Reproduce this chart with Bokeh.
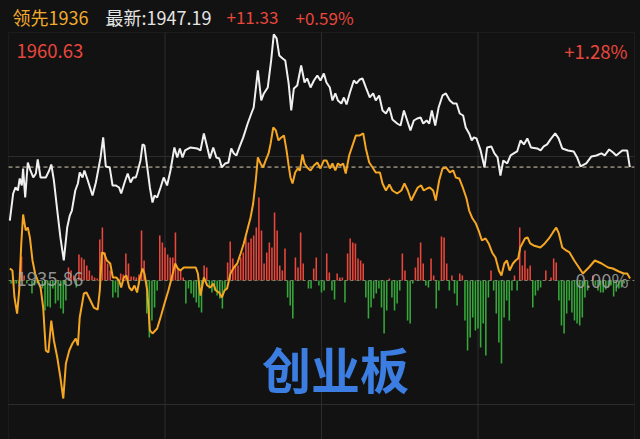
from bokeh.plotting import figure
from bokeh.models import Range1d, Label, BoxAnnotation, ColumnDataSource
from bokeh.embed import file_html
from bokeh.resources import INLINE

# ---------------- data ----------------
PREV_CLOSE = 1935.86
LAST_PRICE = 1947.19
HIGH_LABEL = 1960.63
LEAD_VALUE = 1936
BOARD_NAME = "创业板"
SESSION_MINUTES = 240
GRID_MINUTES = [60, 120, 180]

WHITE_T = [0.5, 1.8, 2.7, 3.6, 4.3, 5.1, 5.6, 6.4, 7.4, 8.4,
           9.5, 10.5, 11.2, 12.3, 14.3, 15.6, 16.4, 17.4, 18.7, 19.9,
           21.2, 22.5, 23.5, 24.3, 25.6, 26.6, 27.3, 28.4, 29.1, 30.4,
           32.2, 33.5, 35.3, 36.3, 37.3, 38.8, 39.9, 41.1, 42.4, 43.2,
           44.5, 45.7, 46.8, 47.8, 48.8, 49.3, 50.6, 51.4, 52.1, 53.2,
           54.2, 55.2, 56.0, 57.0, 58.3, 59.5, 60.8, 62.1, 63.6, 64.7,
           65.7, 66.7, 67.7, 69.8, 72.3, 73.6, 74.9, 76.2, 77.2, 78.5,
           79.7, 80.8, 81.8, 83.1, 84.3, 85.4, 86.4, 87.4, 88.5, 90.0,
           91.7, 93.1, 94.0, 95.6, 96.9, 97.9, 99.4, 100.7, 101.7, 102.8,
           103.8, 105.1, 106.1, 107.4, 108.4, 109.4, 110.7, 112.2, 113.5, 114.5,
           115.8, 117.1, 118.4, 119.6, 120.9, 121.9, 123.2, 124.2, 125.3, 126.3,
           127.6, 128.6, 129.6, 130.9, 132.4, 133.4, 134.7, 135.7, 137.0, 138.5,
           139.8, 140.8, 142.1, 143.4, 144.7, 146.0, 147.2, 149.0, 150.3, 151.6,
           152.6, 154.1, 155.4, 156.7, 158.0, 159.0, 160.3, 161.3, 162.3, 163.6,
           164.9, 166.4, 167.7, 169.2, 170.5, 171.8, 173.0, 174.3, 175.3, 176.6,
           177.6, 178.4, 179.4, 181.0, 182.5, 183.5, 185.1, 186.3, 187.5, 188.6,
           189.7, 191.2, 192.5, 193.7, 195.0, 196.3, 197.6, 198.9, 200.3, 202.7,
           204.0, 205.2, 206.5, 207.8, 209.6, 210.9, 212.3, 214.5, 216.7, 218.0,
           219.3, 221.5, 223.5, 225.4, 227.3, 228.6, 230.3, 231.8, 233.0, 235.3,
           237.2, 238.2]
WHITE_P = [1941.85, 1944.55, 1945.15, 1944.85, 1946.05, 1945.35, 1947.05, 1944.15, 1947.65, 1946.85,
           1946.15, 1946.55, 1947.95, 1946.15, 1946.15, 1946.85, 1947.45, 1945.85, 1942.85, 1940.16,
           1937.86, 1941.15, 1942.35, 1942.85, 1944.85, 1945.55, 1946.65, 1946.15, 1946.85, 1945.85,
           1944.35, 1945.65, 1948.15, 1950.15, 1947.25, 1947.15, 1945.35, 1945.35, 1945.15, 1944.55,
           1945.65, 1946.55, 1945.65, 1946.15, 1946.15, 1946.55, 1947.85, 1949.45, 1949.35, 1947.15,
           1945.15, 1943.65, 1944.35, 1944.15, 1945.15, 1946.15, 1945.35, 1946.85, 1949.15, 1948.15,
           1949.05, 1948.15, 1948.85, 1949.15, 1949.05, 1948.85, 1950.55, 1949.15, 1948.05, 1949.15,
           1948.15, 1948.05, 1947.15, 1947.55, 1947.65, 1949.05, 1948.55, 1948.35, 1949.15, 1950.15,
           1951.54, 1952.54, 1953.14, 1956.84, 1953.84, 1954.54, 1955.14, 1957.84, 1960.44, 1960.04,
           1958.34, 1958.04, 1957.84, 1955.54, 1952.84, 1955.04, 1955.34, 1957.34, 1955.64, 1956.04,
           1955.14, 1955.84, 1956.34, 1955.84, 1956.54, 1955.64, 1955.14, 1953.84, 1954.54, 1953.84,
           1953.54, 1954.14, 1953.44, 1954.64, 1955.84, 1955.54, 1955.94, 1956.04, 1955.14, 1954.14,
           1954.54, 1953.84, 1954.34, 1952.84, 1952.54, 1953.14, 1951.94, 1951.54, 1951.34, 1952.84,
           1952.04, 1950.85, 1951.84, 1952.04, 1952.14, 1951.54, 1951.84, 1951.54, 1952.84, 1951.34,
           1953.14, 1954.34, 1954.54, 1953.84, 1953.54, 1953.54, 1952.54, 1952.34, 1951.14, 1950.55,
           1949.85, 1950.15, 1950.05, 1948.85, 1947.15, 1949.15, 1949.25, 1948.55, 1948.15, 1946.35,
           1947.85, 1947.55, 1948.35, 1948.55, 1948.75, 1949.85, 1949.45, 1950.05, 1949.15, 1949.05,
           1948.85, 1949.25, 1949.45, 1949.95, 1950.55, 1950.05, 1949.05, 1948.85, 1948.75, 1948.15,
           1947.25, 1947.55, 1948.25, 1948.35, 1948.55, 1948.35, 1948.95, 1948.65, 1948.35, 1948.85,
           1948.85, 1947.19]

LEAD_T = [0.5, 1.5, 2.3, 3.3, 4.1, 4.9, 5.6, 6.6, 7.4, 8.2,
          9.2, 10.2, 11.2, 12.3, 13.3, 14.3, 15.3, 16.4, 17.4, 18.7,
          19.9, 21.0, 22.0, 23.3, 24.5, 25.8, 26.6, 27.3, 28.9, 29.9,
          31.4, 32.7, 34.2, 35.0, 35.8, 36.7, 37.7, 39.0, 40.0, 41.3,
          42.4, 43.2, 44.2, 45.2, 46.3, 47.3, 48.3, 49.3, 50.3, 51.4,
          52.1, 53.2, 54.2, 55.2, 57.0, 58.5, 59.8, 61.3, 62.6, 63.9,
          64.9, 65.9, 67.2, 71.8, 72.6, 73.6, 74.9, 76.2, 77.4, 78.5,
          79.5, 80.8, 81.8, 82.8, 83.8, 85.1, 86.4, 87.7, 89.0, 90.2,
          91.5, 92.8, 93.8, 94.8, 95.6, 96.6, 97.6, 98.6, 99.7, 100.5,
          101.5, 102.5, 103.5, 104.6, 105.6, 106.6, 107.4, 108.1, 108.9, 109.9,
          110.9, 111.7, 112.7, 113.5, 114.5, 115.8, 117.1, 118.4, 119.6, 120.9,
          121.9, 123.2, 124.2, 125.3, 126.3, 127.3, 128.3, 129.3, 130.6, 131.9,
          133.2, 134.7, 136.0, 137.0, 138.3, 139.6, 140.8, 142.4, 143.4, 144.7,
          146.0, 147.2, 149.0, 150.6, 151.8, 153.1, 154.4, 155.7, 156.9, 158.2,
          159.2, 160.5, 161.5, 162.8, 163.8, 165.1, 166.4, 167.7, 169.2, 170.5,
          171.5, 172.8, 174.3, 175.6, 176.6, 177.9, 179.2, 180.5, 181.5, 182.9,
          184.1, 185.4, 186.7, 188.0, 189.0, 190.1, 191.1, 192.1, 193.4, 194.4,
          195.4, 196.2, 197.0, 198.0, 199.0, 200.0, 201.3, 203.9, 205.6, 207.2,
          208.7, 210.0, 211.0, 212.3, 213.8, 215.1, 216.9, 218.7, 220.2, 222.5,
          224.8, 227.4, 229.9, 231.7, 234.0, 235.9, 237.2, 238.3]
LEAD_P = [1937.06, 1936.86, 1934.16, 1932.56, 1934.86, 1939.56, 1942.45, 1940.86, 1941.15, 1940.16,
          1937.86, 1936.56, 1935.86, 1935.16, 1933.16, 1928.87, 1928.67, 1931.86, 1929.87, 1928.17,
          1926.17, 1924.07, 1927.57, 1928.87, 1929.57, 1930.07, 1929.37, 1932.16, 1934.56, 1934.66,
          1933.86, 1933.16, 1932.96, 1934.86, 1938.66, 1938.56, 1937.86, 1937.56, 1936.16, 1936.16,
          1935.86, 1935.16, 1936.16, 1936.36, 1935.16, 1934.86, 1935.36, 1934.66, 1936.06, 1937.06,
          1936.56, 1934.86, 1930.87, 1930.57, 1931.06, 1932.36, 1933.56, 1934.86, 1936.16, 1937.56,
          1937.06, 1936.86, 1937.16, 1937.16, 1936.56, 1934.36, 1936.16, 1935.36, 1935.16, 1935.56,
          1934.86, 1934.66, 1934.16, 1934.86, 1935.06, 1936.56, 1937.16, 1937.56, 1938.56, 1939.56,
          1940.86, 1942.15, 1943.55, 1945.85, 1948.15, 1947.55, 1947.15, 1947.85, 1948.55, 1949.55,
          1951.14, 1950.85, 1949.85, 1950.15, 1950.35, 1948.85, 1947.35, 1946.15, 1945.55, 1946.65,
          1947.05, 1946.85, 1948.45, 1947.55, 1947.15, 1946.85, 1947.35, 1947.65, 1947.05, 1947.85,
          1947.85, 1947.05, 1947.55, 1946.85, 1947.55, 1947.35, 1947.55, 1946.55, 1948.35, 1949.35,
          1950.35, 1950.35, 1950.55, 1949.05, 1947.65, 1947.15, 1946.65, 1946.65, 1945.55, 1944.85,
          1945.45, 1944.85, 1944.55, 1944.85, 1945.55, 1944.85, 1943.85, 1944.55, 1945.15, 1945.35,
          1944.85, 1945.05, 1945.15, 1944.85, 1943.85, 1945.85, 1947.05, 1947.15, 1946.65, 1946.85,
          1946.15, 1946.05, 1945.05, 1944.05, 1942.85, 1942.05, 1941.55, 1940.66, 1939.86, 1940.06,
          1939.56, 1938.66, 1938.16, 1936.86, 1936.36, 1937.56, 1937.86, 1936.86, 1937.56, 1937.86,
          1938.06, 1939.16, 1939.56, 1940.06, 1940.16, 1939.56, 1939.36, 1939.16, 1939.56, 1940.06,
          1940.66, 1941.15, 1940.56, 1939.16, 1938.86, 1938.66, 1937.86, 1937.16, 1936.56, 1937.16,
          1937.86, 1937.56, 1937.16, 1937.06, 1936.76, 1936.56, 1936.56, 1936.06]

# per-minute buy/sell strength bars (minute 0 .. 237)
FLOW = [0, -3, -4, -3, -3, 24, 5, -3, 0, -13,
        -5, -3, 0, -8, -30, -26, -27, -8, -23, -20,
        -28, -33, -20, 13, 10, 5, -7, 26, 23, 21,
        15, 10, 5, 3, 2, 41, 53, 28, 17, 10,
        -17, -12, -17, 7, 6, 27, 17, 4, 4, 3,
        6, 50, 20, -33, -57, -40, -27, -10, 45, 38,
        33, 26, 23, 23, 48, 12, 10, 3, -23, -8,
        -13, -17, -22, -27, -32, 15, 13, -8, -12, -10,
        -15, -18, -28, -10, 18, 39, 22, 15, 15, 23,
        28, 43, 38, 42, 45, 53, 83, 50, 17, 28,
        38, 33, 68, 50, 15, 10, 32, -17, -25, -38,
        23, 13, 48, 17, 0, -8, -8, 12, 23, -5,
        -12, -10, 27, 8, -10, -19, 7, 3, 3, -22,
        27, 42, 38, 37, 22, 20, 17, -17, -38, -27,
        -18, -13, -8, -27, -53, -30, 2, -17, -30, -23,
        -10, 27, 10, -40, -43, -3, 13, 23, 38, 17,
        -5, -7, 22, 5, -28, -10, 44, 43, 17, -10,
        5, -13, -25, 7, 5, -40, -70, -57, -37, -50,
        -48, -67, -43, -75, -17, 10, -10, -33, -62, -83,
        -37, -20, -40, -10, 5, -10, 53, 15, 30, 12,
        15, -27, -15, -10, -7, 0, 10, 0, 3, 22,
        18, -20, -45, -53, -33, -20, -32, -40, -43, -45,
        -37, -17, -10, 0, 5, -5, -10, -12, -12, -9,
        -7, -5, -16, -11, -8, -7, -3, 0]
FLOW_MINUTES = list(range(len(FLOW)))

# ---------------- style / layout ----------------
BG = "#121212"
GRID = "#2c2c2c"
BORDER = "#363636"
WHITE = "#f0f0f0"
ORANGE = "#f5a623"
RED = "#e8473c"
GREEN = "#36a83a"
FONT = "Noto Sans CJK SC"

W, H = 640, 439
LEFT_PX, SESSION_PX = 8, 626     # session spans 626 px starting 8 px in
TOP_PX, ZERO_PX = 32, 280        # top border and zero line, from the top
px_per_min = SESSION_PX / SESSION_MINUTES
x_lo = -LEFT_PX / px_per_min
x_hi = (W - LEFT_PX) / px_per_min
k = (HIGH_LABEL - PREV_CLOSE) / (ZERO_PX - TOP_PX)
y_lo = PREV_CLOSE - (H - ZERO_PX) * k
y_hi = PREV_CLOSE + ZERO_PX * k

p = figure(width=W, height=H, output_backend="svg", toolbar_location=None,
           x_range=Range1d(x_lo, x_hi), y_range=Range1d(y_lo, y_hi),
           x_axis_type=None, y_axis_type=None, min_border=0,
           background_fill_color=BG, border_fill_color=BG, outline_line_color=None)
p.min_border_left = p.min_border_right = p.min_border_top = p.min_border_bottom = 0
p.extra_y_ranges = {"flow": Range1d(-(H - ZERO_PX), ZERO_PX)}

half = (HIGH_LABEL - PREV_CLOSE) / 2
# grid
p.segment(x0=GRID_MINUTES, x1=GRID_MINUTES, y0=[y_lo] * 3, y1=[HIGH_LABEL] * 3,
          line_color=GRID, line_width=1)
p.segment(x0=[0, 0], x1=[SESSION_MINUTES] * 2,
          y0=[PREV_CLOSE + half, PREV_CLOSE - half], y1=[PREV_CLOSE + half, PREV_CLOSE - half],
          line_color=GRID, line_width=1)
p.add_layout(BoxAnnotation(left=0, right=SESSION_MINUTES, top=HIGH_LABEL, bottom=y_lo,
                           fill_color=None, line_color=BORDER, line_width=1))

# bars
src = ColumnDataSource(dict(x=FLOW_MINUTES, top=FLOW,
                            color=[RED if v > 0 else GREEN for v in FLOW]))
p.vbar(x="x", top="top", bottom=0, width=0.6, fill_color="color", line_color=None,
       y_range_name="flow", source=src)

# baseline and last price
p.segment(x0=[0], x1=[SESSION_MINUTES], y0=[PREV_CLOSE], y1=[PREV_CLOSE],
          line_color="#76866c", line_width=1, line_dash="3 3")
p.segment(x0=[0], x1=[SESSION_MINUTES], y0=[LAST_PRICE], y1=[LAST_PRICE],
          line_color="#d8d0b4", line_width=1, line_dash="4 3")

# lines
p.line(LEAD_T, LEAD_P, line_color=ORANGE, line_width=2)
p.line(WHITE_T, WHITE_P, line_color=WHITE, line_width=2)

# texts (screen units: x from the left, y from the bottom of the canvas)
def lab(px, py, text, color, size="18px", align="left", alpha=1.0, style="normal"):
    p.add_layout(Label(x=px, y=H - py, x_units="screen", y_units="screen", text=text,
                       text_color=color, text_font=FONT, text_font_size=size,
                       text_align=align, text_baseline="middle", text_alpha=alpha,
                       text_font_style=style))

chg = LAST_PRICE - PREV_CLOSE
lab(12, 16.5, f"领先{LEAD_VALUE}", "#f2ac2c")
lab(105, 16.5, f"最新:{LAST_PRICE:.2f}", "#e4e4e4")
lab(226, 16.5, f"{chg:+.2f}", RED, size="17px")
lab(295, 16.5, f"{chg / PREV_CLOSE * 100:+.2f}%", RED, size="17px")
lab(16, 50.5, f"{HIGH_LABEL:.2f}", RED, size="18.5px")
lab(627, 50.5, f"{(HIGH_LABEL - PREV_CLOSE) / PREV_CLOSE * 100:+.2f}%", RED,
    size="18.5px", align="right")
lab(16, 278, f"{PREV_CLOSE:.2f}", "#a8a8a8", size="18.5px", alpha=0.85)
lab(628, 279, f"{0:.2f}%", "#a8a8a8", size="18.5px", align="right", alpha=0.85)
lab(335, 367, BOARD_NAME, "#3b7de0", size="49px", align="center", style="bold")

html = file_html(p, INLINE, title=BOARD_NAME)
html = html.replace("<head>", "<head><style>html,body{background:#121212;overflow:hidden;}</style>", 1)
open("out.html", "w").write(html)
